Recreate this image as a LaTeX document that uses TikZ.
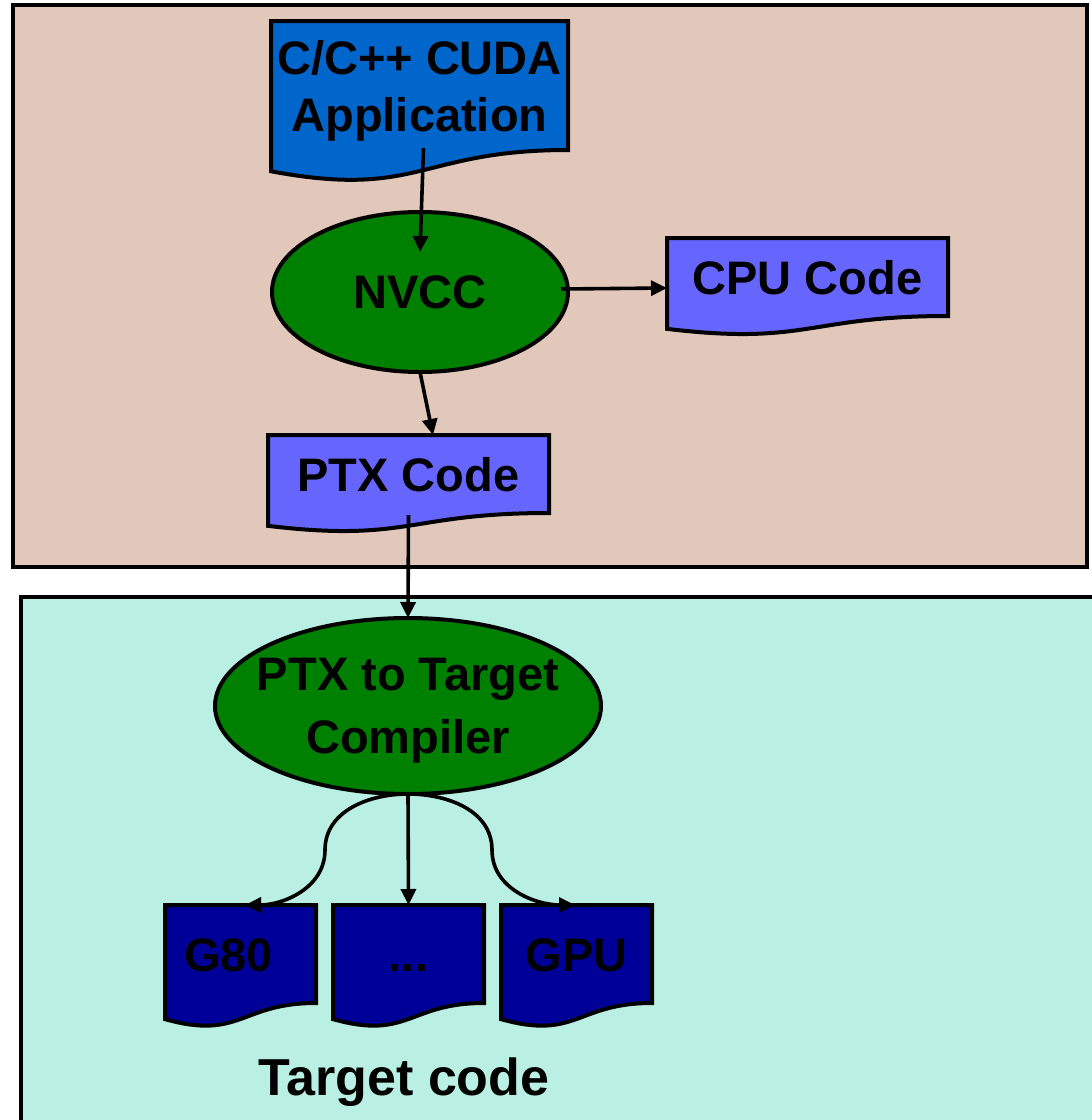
\documentclass[tikz,border=0pt]{standalone}
\usepackage{fontspec}
\setmainfont{Liberation Sans}
\usetikzlibrary{shapes.geometric,arrows.meta}
\definecolor{toppanel}{RGB}{226,199,187}
\definecolor{botpanel}{RGB}{186,240,227}
\definecolor{appblue}{RGB}{0,102,204}
\definecolor{codeblue}{RGB}{102,102,255}
\definecolor{compgreen}{RGB}{0,128,0}
\definecolor{tgtblue}{RGB}{0,0,153}
\pgfdeclarelayer{panels}
\pgfdeclarelayer{docs}
\pgfsetlayers{panels,docs,main}
\tikzset{
  outline/.style={draw=black,line width=4pt},
  bigtext/.style={font=\fontsize{47}{57}\selectfont\bfseries},
  docnode/.style={bigtext, rectangle, inner sep=0pt, outer sep=0pt, text height=34pt, text depth=0pt},
  procnode/.style={bigtext, ellipse, outline, fill=compgreen, inner sep=0pt, outer sep=0pt, align=center, text depth=0pt},
  flow/.style={line width=3.6pt, -{Triangle[length=16pt,width=15pt]}},
  branch/.style={line width=3.6pt},
}
\newcommand{\docshape}[3]{%
  \begin{pgfonlayer}{docs}
  \draw[outline, fill=#2] (#1.north west) -- (#1.north east) -- (#1.south east)
    .. controls (#1.south) and ([yshift={-0.381*#3pt}]#1.south) ..
    ([yshift={-0.1646*#3pt}]#1.south west) -- cycle;
  \end{pgfonlayer}}
\begin{document}
\begin{tikzpicture}[x=1pt,y=-1pt]
\useasboundingbox (0,0) rectangle (1092,1120);
% panels
\begin{pgfonlayer}{panels}
  \fill[gray!70] (16,8) rectangle (1089,569);
  \draw[outline, fill=toppanel] (13,5) rectangle (1087,567);
  \draw[outline, fill=botpanel] (21,597) rectangle (1120,1150);
\end{pgfonlayer}
% documents
\node[docnode, minimum width=297pt, minimum height=129pt, align=center, text height=, text depth=0pt] (app) at (419.5,85.5) {C/C++ CUDA\\Application};
\docshape{app}{appblue}{129}
\node[docnode, minimum width=281pt, minimum height=78pt] (cpu) at (807.5,277) {CPU Code};
\docshape{cpu}{codeblue}{78}
\node[docnode, minimum width=281pt, minimum height=78pt] (ptx) at (408.5,474) {PTX Code};
\docshape{ptx}{codeblue}{78}
\node[docnode, minimum width=151pt, minimum height=98pt] (g80) at (240.5,954) {G80\kern24pt};
\docshape{g80}{tgtblue}{98}
\node[docnode, minimum width=151pt, minimum height=98pt] (dots) at (408.5,954) {...};
\docshape{dots}{tgtblue}{98}
\node[docnode, minimum width=151pt, minimum height=98pt] (gpu) at (576.5,954) {GPU};
\docshape{gpu}{tgtblue}{98}
% processes
\node[procnode, minimum width=296pt, minimum height=160pt] (nvcc) at (420,292) {NVCC};
\node[procnode, minimum width=386pt, minimum height=176pt, font=\fontsize{47}{63}\selectfont\bfseries] (comp) at (408,706) {\makebox[0pt]{PTX to Target}\\\makebox[0pt]{Compiler}};
% label
\node[font=\fontsize{52}{60}\selectfont\bfseries, anchor=base] (tlabel) at (404,1095) {Target code};
% coordinates for the branching connectors
\coordinate (bl) at (325,850);
\coordinate (br) at (492,850);
% connectors
\draw[flow] ([xshift=4pt,yshift=2pt]app.south) -- ([yshift=-40pt]nvcc.north);
\draw[flow] ([xshift=-7pt,yshift=3pt]nvcc.east) -- ([yshift=-11pt]cpu.west);
\draw[flow] (nvcc.south) -- ([xshift=24.5pt]ptx.north);
\draw[flow] ([yshift=-2pt]ptx.south) -- (comp.north);
\draw[branch] (comp.south) to[out=180,in=90] (bl);
\draw[flow] (bl) to[out=-90,in=0] ([xshift=4.5pt]g80.north);
\draw[flow] (comp.south) -- (dots.north);
\draw[branch] (comp.south) to[out=0,in=90] (br);
\draw[flow] (br) to[out=-90,in=180] ([xshift=-1.5pt]gpu.north);
\end{tikzpicture}
\end{document}
